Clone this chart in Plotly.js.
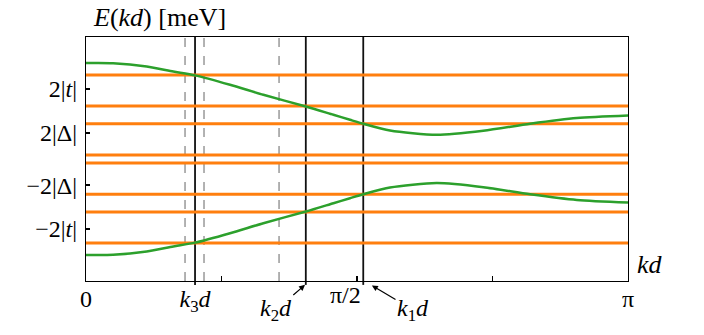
<!DOCTYPE html>
<html>
<head>
<meta charset="utf-8">
<script src="https://cdn.plot.ly/plotly-3.0.1.min.js"></script>
<style>
  body { margin: 0; background: #fff; }
</style>
</head>
<body>
<div id="myDiv"></div>
<script>
const PI = Math.PI;

// curva superior e inferior
const kdUpper = [0, 0.157, 0.352, 0.506, 0.632, 0.835, 1.028, 1.275, 1.434, 1.53, 1.608, 1.762, 2.033, 2.303, 2.574, 2.845, 3.1416];
const eUpper = [2.74, 2.735, 2.643, 2.5, 2.39, 2.12, 1.834, 1.5, 1.263, 1.12, 1.006, 0.814, 0.691, 0.806, 1.006, 1.169, 1.243];
const kdLower = [0, 0.157, 0.352, 0.506, 0.632, 0.835, 1.028, 1.275, 1.434, 1.53, 1.608, 1.762, 2.033, 2.303, 2.574, 2.845, 3.1416];
const eLower = [-2.74, -2.735, -2.643, -2.5, -2.39, -2.12, -1.834, -1.5, -1.263, -1.12, -1.006, -0.814, -0.689, -0.806, -1.006, -1.169, -1.243];

// niveles horizontales (naranja)
const levels = [2.397, 1.511, 1.006, 0.111, -0.111, -1.006, -1.511, -2.397];

// lineas verticales
const kSolid = [0.632, 1.274, 1.607];
const kDashed = [0.574, 0.684, 1.119];

// ticks del eje y
const yTickVals = [2, 0.757, -0.757, -2];
const yTickText = ["2|<i>t</i>|", "2|Δ|", "−2|Δ|", "−2|<i>t</i>|"];

const fam = "Liberation Serif";

const traces = [];
levels.forEach((v) => {
  traces.push({
    type: "scatter", mode: "lines", x: [0, PI], y: [v, v],
    line: { color: "#ff7f0e", width: 3 }, hoverinfo: "skip", showlegend: false,
  });
});
traces.push({
  type: "scatter", mode: "lines", x: kdUpper, y: eUpper,
  line: { color: "#2ca02c", width: 2.5, shape: "spline", smoothing: 0.7 }, showlegend: false,
});
traces.push({
  type: "scatter", mode: "lines", x: kdLower, y: eLower,
  line: { color: "#2ca02c", width: 2.5, shape: "spline", smoothing: 0.7 }, showlegend: false,
});

const shapes = [];
kDashed.forEach((k) => {
  shapes.push({
    type: "line", xref: "x", yref: "paper", x0: k, x1: k, y0: 0, y1: 1,
    line: { color: "#999999", width: 1.5, dash: "dash" }, layer: "below",
  });
});
kSolid.forEach((k) => {
  shapes.push({
    type: "line", xref: "x", yref: "paper", x0: k, x1: k, y0: -0.016, y1: 1,
    line: { color: "#111111", width: 1.8 }, layer: "below",
  });
});

const annotations = [
  { text: "<i>E</i>(<i>kd</i>) [meV]", xref: "paper", yref: "paper", x: 0.01, y: 1.078,
    xanchor: "left", yanchor: "middle", showarrow: false, font: { family: fam, size: 26, color: "#000" } },
  { text: "<i>kd</i>", xref: "paper", yref: "paper", x: 1.012, y: 0.066,
    xanchor: "left", yanchor: "middle", showarrow: false, font: { family: fam, size: 26, color: "#000" } },
  { text: "π/2", xref: "paper", yref: "paper", x: 0.478, y: -0.057,
    xanchor: "center", yanchor: "middle", showarrow: false, font: { family: fam, size: 24, color: "#000" } },
  { text: "<i>k</i><sub>2</sub><i>d</i>", xref: "x", yref: "paper", x: kSolid[1], y: -0.013,
    ax: -30, ay: 26, showarrow: true, arrowhead: 2, arrowsize: 1, arrowwidth: 1.2, arrowcolor: "#000",
    standoff: 1, font: { family: fam, size: 24, color: "#000" } },
  { text: "<i>k</i><sub>1</sub><i>d</i>", xref: "x", yref: "paper", x: kSolid[2] + 0.045, y: -0.016,
    ax: 42, ay: 25, showarrow: true, arrowhead: 2, arrowsize: 1, arrowwidth: 1.2, arrowcolor: "#000",
    standoff: 1, font: { family: fam, size: 24, color: "#000" } },
];

const layout = {
  width: 704, height: 335,
  margin: { l: 86, r: 76, t: 37, b: 54 },
  paper_bgcolor: "#fff", plot_bgcolor: "#fff",
  showlegend: false,
  font: { family: fam, size: 24, color: "#000" },
  xaxis: {
    range: [0, PI], showgrid: false, zeroline: false,
    showline: true, linecolor: "#000", linewidth: 1.2, mirror: true,
    tickmode: "array", tickvals: [0, kSolid[0], PI],
    ticktext: ["0", "<i>k</i><sub>3</sub><i>d</i>", "π"],
    ticks: "", ticklen: 0, ticklabelstandoff: -4,
    minor: { tickmode: "array", tickvals: [PI / 4, PI / 2, 3 * PI / 4], ticks: "inside", ticklen: 5, tickwidth: 1.5, tickcolor: "#000" },
    tickfont: { family: fam, size: 24, color: "#000" },
  },
  yaxis: {
    range: [-3.486, 3.486], showgrid: false, zeroline: false,
    showline: true, linecolor: "#000", linewidth: 1.2, mirror: true,
    tickmode: "array", tickvals: yTickVals, ticktext: yTickText,
    ticks: "inside", ticklen: 4, tickwidth: 2, tickcolor: "#000",
    ticklabelstandoff: 3,
    tickfont: { family: fam, size: 24, color: "#000" },
  },
  shapes: shapes,
  annotations: annotations,
};

Plotly.newPlot("myDiv", traces, layout, { displayModeBar: false, staticPlot: true });
</script>
</body>
</html>
